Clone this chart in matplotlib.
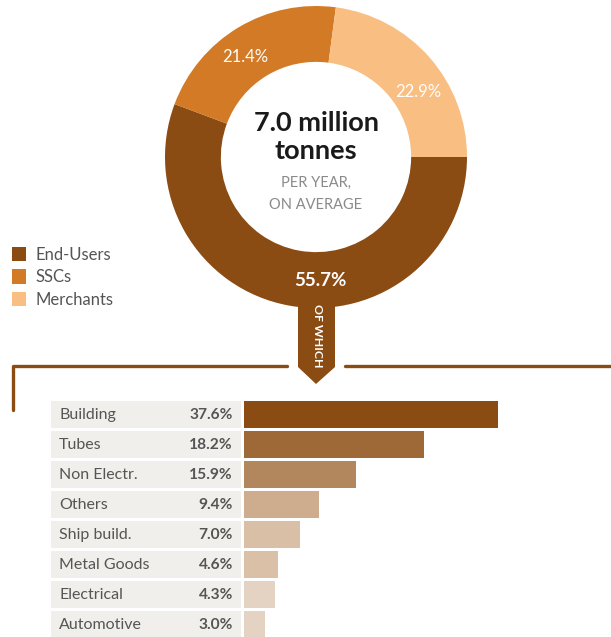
import numpy as np
import matplotlib
matplotlib.use("Agg")
import matplotlib.pyplot as plt
from matplotlib.patches import Polygon

plt.rcParams['font.family'] = ['Lato', 'DejaVu Sans']

# donut data
segments = ['End-Users', 'SSCs', 'Merchants']
shares = [55.7, 21.4, 22.9]
segColors = ['#8B4C14', '#D27A25', '#F8BE82']

# end-user breakdown
sectors = ['Building', 'Tubes', 'Non Electr.', 'Others', 'Ship build.', 'Metal Goods', 'Electrical', 'Automotive']
sectorPct = [37.6, 18.2, 15.9, 9.4, 7.0, 4.6, 4.3, 3.0]
# bar lengths as drawn in the infographic (not strictly proportional)
barLen = [37.6, 26.6, 16.6, 11.1, 8.3, 5.0, 4.6, 3.1]
barColors = ['#8B4C14', '#9F6937', '#B3875D', '#CEAD8E', '#D9BFA6', '#D9C0A7', '#E4D3C3', '#E4D3C3']

W, H = 611, 637
brown = '#8B4C14'
fig = plt.figure(figsize=(W/100, H/100), dpi=100)

# donut
cx, cy, R = 316, 157, 151
axPie = fig.add_axes([(cx-R)/W, 1-(cy+R)/H, 2*R/W, 2*R/H])
wedges, _ = axPie.pie(shares, colors=segColors, startangle=0, counterclock=False,
                      radius=1, wedgeprops=dict(width=0.37, linewidth=0))
axPie.set_xlim(-1, 1)
axPie.set_ylim(-1, 1)
axPie.axis('off')

# bars, x=0 sits at pixel 244, 6.76 px per unit
x0, scale = 244, 6.76
def px(p):
    return (p - x0) / scale

axBar = fig.add_axes([0, 1-639.5/H, 1, 240/H])
rows = np.arange(len(sectors))
axBar.barh(rows, [px(241)-px(51)]*len(rows), left=px(51), height=0.9, color='#F0EFEB', linewidth=0)
axBar.barh(rows, barLen, left=0, height=0.9, color=barColors, linewidth=0)
for i in rows:
    axBar.text(px(59), i + 0.03, sectors[i], ha='left', va='center', fontsize=11.5, color='#555555')
    axBar.text(px(233), i + 0.03, f'{sectorPct[i]:.1f}%', ha='right', va='center', fontsize=11.2,
               fontweight='bold', color='#555555')
axBar.set_xlim(px(0), px(W))
axBar.set_ylim(7.5, -0.5)
axBar.axis('off')

# overlay in pixel coords
ov = fig.add_axes([0, 0, 1, 1])
ov.set_xlim(0, W)
ov.set_ylim(H, 0)
ov.axis('off')
ov.patch.set_alpha(0)

ov.text(316, 123, '7.0 million', ha='center', va='center', fontsize=19.5, fontweight='bold', color='#1A1A1A')
ov.text(316, 151, 'tonnes', ha='center', va='center', fontsize=19.5, fontweight='bold', color='#1A1A1A')
ov.text(316, 183, 'PER YEAR,', ha='center', va='center', fontsize=10.5, color='#8A8A8A')
ov.text(316, 205, 'ON AVERAGE', ha='center', va='center', fontsize=10.5, color='#8A8A8A')

ov.text(245, 57, f'{shares[1]}%', ha='center', va='center', fontsize=12, color='white')
ov.text(418, 92, f'{shares[2]}%', ha='center', va='center', fontsize=12, color='white')
ov.text(320, 280, f'{shares[0]}%', ha='center', va='center', fontsize=13.5, fontweight='bold', color='white')

# arrow "of which"
ov.add_patch(Polygon([(298, 298), (335, 298), (335, 367), (316, 384), (298, 367)],
                     closed=True, facecolor=brown, edgecolor='none'))
ov.text(317, 336, 'OF WHICH', ha='center', va='center', rotation=-90, fontsize=8.8,
        fontweight='bold', color='white')

# bracket line
ov.plot([13, 13, 287], [410, 366, 366], color=brown, lw=2.4, solid_joinstyle='round', solid_capstyle='round')
ov.plot([345, 615], [366, 366], color=brown, lw=2.4, solid_capstyle='round')

fig.legend(wedges, segments, loc='upper left', bbox_to_anchor=(12/W, 1-247/H), frameon=False,
           fontsize=12, labelcolor='#555555', handlelength=0.85, handleheight=0.95,
           handletextpad=0.55, labelspacing=0.38, borderpad=0, borderaxespad=0)

fig.savefig('out.png', dpi=100)
